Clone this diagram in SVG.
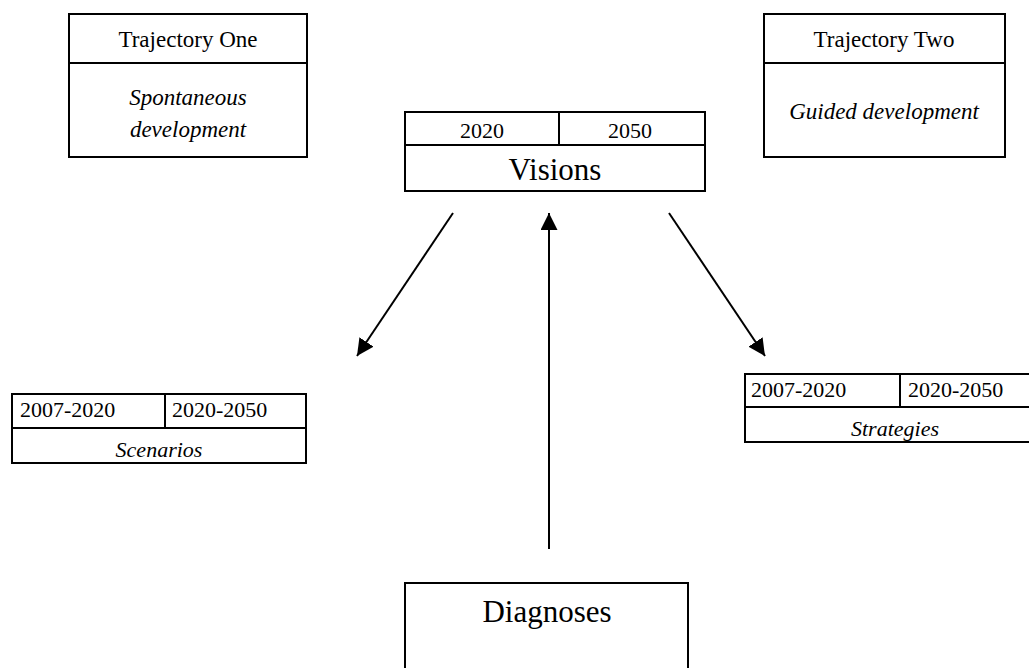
<svg xmlns="http://www.w3.org/2000/svg" width="1029" height="668" viewBox="0 0 1029 668">
<style>
.box{fill:#fff;stroke:#000;stroke-width:2}
.ln{stroke:#000;stroke-width:2;fill:none}
text{font-family:"Liberation Serif","Times New Roman",serif;fill:#000}
.c{text-anchor:middle}
.i{font-style:italic}
</style>
<defs>
<marker id="ah" viewBox="0 0 10 10" refX="10" refY="5" markerWidth="8.5" markerHeight="8.5" markerUnits="strokeWidth" orient="auto">
<path d="M0,0 L10,5 L0,10 z" fill="#000"/>
</marker>
</defs>
<g id="traj1">
<rect class="box" x="69" y="14" width="238" height="143"/>
<line class="ln" x1="69" y1="63" x2="307" y2="63"/>
<text class="c" x="188" y="47" font-size="23">Trajectory One</text>
<text class="c i" x="188" y="105" font-size="23">Spontaneous</text>
<text class="c i" x="188" y="137" font-size="23">development</text>
</g>
<g id="traj2">
<rect class="box" x="764" y="14" width="241" height="143"/>
<line class="ln" x1="764" y1="63" x2="1005" y2="63"/>
<text class="c" x="884" y="47" font-size="23">Trajectory Two</text>
<text class="c i" x="884" y="119" font-size="23">Guided development</text>
</g>
<g id="visions">
<rect class="box" x="405" y="112" width="300" height="79"/>
<line class="ln" x1="405" y1="145" x2="705" y2="145"/>
<line class="ln" x1="559" y1="112" x2="559" y2="145"/>
<text class="c" x="482" y="138" font-size="22">2020</text>
<text class="c" x="630" y="138" font-size="22">2050</text>
<text class="c" x="555" y="180" font-size="31">Visions</text>
</g>
<g id="scenarios">
<rect class="box" x="12" y="394" width="294" height="69"/>
<line class="ln" x1="12" y1="428" x2="306" y2="428"/>
<line class="ln" x1="165" y1="394" x2="165" y2="428"/>
<text x="20" y="417" font-size="22">2007-2020</text>
<text x="172" y="417" font-size="22">2020-2050</text>
<text class="c i" x="159" y="457" font-size="22">Scenarios</text>
</g>
<g id="strategies">
<rect class="box" x="745" y="374" width="295" height="68"/>
<line class="ln" x1="745" y1="407" x2="1040" y2="407"/>
<line class="ln" x1="900" y1="374" x2="900" y2="407"/>
<text x="751" y="397" font-size="22">2007-2020</text>
<text x="908" y="397" font-size="22">2020-2050</text>
<text class="c i" x="895" y="436" font-size="22">Strategies</text>
</g>
<g id="diagnoses">
<path class="ln" d="M405,680 V583 H688 V680"/>
<text class="c" x="547" y="622" font-size="31">Diagnoses</text>
</g>
<g id="connectors">
<line class="ln" x1="453" y1="213" x2="357" y2="356" marker-end="url(#ah)"/>
<line class="ln" x1="549" y1="549" x2="549" y2="213" marker-end="url(#ah)"/>
<line class="ln" x1="669" y1="213" x2="765" y2="356" marker-end="url(#ah)"/>
</g>
</svg>
